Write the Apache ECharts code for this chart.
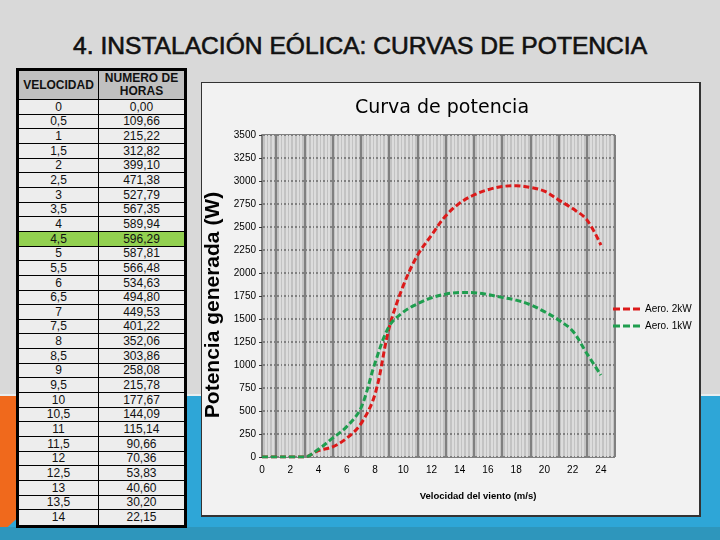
<!DOCTYPE html>
<html>
<head>
<meta charset="utf-8">
<script src="https://cdn.jsdelivr.net/npm/echarts@6/dist/echarts.min.js"></script>
<style>
html,body{margin:0;padding:0;width:720px;height:540px;overflow:hidden;background:#d9d9d9;font-family:"Liberation Sans",Arial,sans-serif;}
.abs{position:absolute;}
#bgBlue{left:0;top:396px;width:720px;height:144px;background:#2ea6d7;}
#bgLine{left:0;top:394px;width:720px;height:2px;background:#e9eef0;}
#bgOrange{left:0;top:396px;width:18px;height:138px;background:#f0691c;clip-path:polygon(0 0,100% 0,100% 88%,0 100%);}
#bgBottom{left:0;top:527px;width:720px;height:13px;background:#2e96bc;}
#slideTitle{left:0;top:34px;width:720px;text-align:center;line-height:24px;color:#111;white-space:nowrap;}
#slideTitle span{display:inline-block;font-size:24px;font-weight:normal;-webkit-text-stroke:0.6px #111;transform-origin:50% 50%;}
#frame{left:201px;top:82px;width:500px;height:435px;box-sizing:border-box;background:#f2f2f2;border:1px solid #333;border-right-width:2px;border-bottom-width:2px;}
#chart{left:0;top:0;width:720px;height:540px;}
#tbl{left:16px;top:68px;width:171px;height:460px;box-sizing:border-box;border:3px solid #000;background:#000;z-index:5;}
.cell{position:absolute;box-sizing:border-box;text-align:center;color:#111;font-size:12px;overflow:hidden;white-space:nowrap;}
.hdr{background:#c0c0c0;font-weight:bold;line-height:13px;display:flex;align-items:center;justify-content:center;}
</style>
</head>
<body>
<div id="bgBlue" class="abs"></div>
<div id="bgLine" class="abs"></div>
<div id="bgOrange" class="abs"></div>
<div id="bgBottom" class="abs"></div>
<div id="slideTitle" class="abs"><span id="titleSpan">4. INSTALACIÓN EÓLICA: CURVAS DE POTENCIA</span></div>
<div id="frame" class="abs"></div>
<div id="chart" class="abs"></div>
<div id="tbl" class="abs"></div>
<script>
// ---- table data ----
const tableHeaders = ['VELOCIDAD', 'NUMERO DE<br>HORAS'];
const velocidad = ['0','0,5','1','1,5','2','2,5','3','3,5','4','4,5','5','5,5','6','6,5','7','7,5','8','8,5','9','9,5','10','10,5','11','11,5','12','12,5','13','13,5','14'];
const horas = ['0,00','109,66','215,22','312,82','399,10','471,38','527,79','567,35','589,94','596,29','587,81','566,48','534,63','494,80','449,53','401,22','352,06','303,86','258,08','215,78','177,67','144,09','115,14','90,66','70,36','53,83','40,60','30,20','22,15'];
const highlightRow = '4,5';

// ---- chart data ----
const windSpeed = [0,1,2,3,4,5,6,7,8,9,10,11,12,13,14,15,16,17,18,19,20,21,22,23,24];
const aero2kW = [0,0,0,0,70,110,205,360,680,1400,1860,2190,2410,2620,2760,2848,2905,2940,2948,2930,2890,2795,2700,2580,2304];
const aero1kW = [0,0,0,0,85,205,330,530,1020,1420,1575,1665,1730,1770,1788,1786,1765,1735,1705,1655,1580,1490,1370,1127,890];
const xTickLabels = [0,2,4,6,8,10,12,14,16,18,20,22,24];
const yTickLabels = [0,250,500,750,1000,1250,1500,1750,2000,2250,2500,2750,3000,3250,3500];

// ---- slide title fit ----
(function(){
  const s = document.getElementById('titleSpan');
  const w = s.getBoundingClientRect().width;
  s.style.transform = 'scaleX(' + (574 / w) + ')';
})();

// ---- build table ----
(function(){
  const tbl = document.getElementById('tbl');
  const colX = [0, 80, 165];
  const hdrH = 29;
  const totalH = 454;
  const n = velocidad.length;
  const rowH = (totalH - hdrH) / n;
  function addCell(x, y, w, h, html, cls, bg){
    const d = document.createElement('div');
    d.className = 'cell ' + (cls||'');
    d.style.left = x + 'px'; d.style.top = y + 'px';
    d.style.width = w + 'px'; d.style.height = h + 'px';
    if (!cls) d.style.lineHeight = h + 'px';
    d.style.background = bg;
    d.innerHTML = html;
    tbl.appendChild(d);
  }
  addCell(colX[0], 0, colX[1]-colX[0]-1, hdrH-1, tableHeaders[0], 'hdr', '#c0c0c0');
  addCell(colX[1], 0, colX[2]-colX[1], hdrH-1, tableHeaders[1], 'hdr', '#c0c0c0');
  for (let i = 0; i < n; i++) {
    const y0 = Math.round(hdrH + i*rowH);
    const y1 = Math.round(hdrH + (i+1)*rowH);
    const bg = velocidad[i] === highlightRow ? '#92d050' : '#ededed';
    const h = (i === n-1) ? (y1 - y0) : (y1 - y0 - 1);
    addCell(colX[0], y0, colX[1]-colX[0]-1, h, velocidad[i], '', bg);
    addCell(colX[1], y0, colX[2]-colX[1], h, horas[i], '', bg);
  }
})();

// ---- chart ----
const chart = echarts.init(document.getElementById('chart'), null, {renderer:'canvas'});
const font = '"Liberation Sans", Arial, sans-serif';
const dashIcon = 'path://M0 0h7v3h-7z M10 0h7v3h-7z M20 0h7v3h-7z';
const option = {
  animation: false,
  backgroundColor: 'transparent',
  textStyle: {fontFamily: font},
  grid: {left: 262, right: 105, top: 135, bottom: 83, show: true, backgroundColor: '#c3c3c3', borderWidth: 0},
  legend: {
    orient: 'vertical', left: 608, top: 298, itemWidth: 27, itemHeight: 3, itemGap: 5,
    icon: dashIcon,
    textStyle: {fontSize: 10, color: '#000', fontFamily: font, lineHeight: 12},
    data: ['Aero. 2kW', 'Aero. 1kW']
  },
  xAxis: {
    type: 'value', min: 0, max: 25, interval: 1,
    axisLine: {show: false}, axisTick: {show: false},
    axisLabel: {fontSize: 10, color: '#000', margin: 8, fontFamily: font,
      formatter: function(v){ return xTickLabels.indexOf(v) >= 0 ? String(v) : ''; }},
    splitLine: {show: true, lineStyle: {color: ['#dcdcdc', '#808080'], width: 2}},
    minorTick: {show: false, splitNumber: 4},
    minorSplitLine: {show: true, lineStyle: {color: '#dcdcdc', width: 2}}
  },
  yAxis: {
    type: 'value', min: 0, max: 3500, interval: 250,
    axisLine: {show: true, lineStyle: {color: '#808080', width: 2}},
    axisTick: {show: true, length: 3, lineStyle: {color: '#333'}},
    axisLabel: {fontSize: 10, color: '#000', margin: 6, fontFamily: font,
      formatter: function(v){ return yTickLabels.indexOf(v) >= 0 ? String(v) : ''; }},
    splitLine: {show: true, lineStyle: {color: '#808080', width: 2}}
  },
  series: [
    {name: 'Aero. 2kW', type: 'line', smooth: 0.35, symbol: 'none', z: 3,
     data: windSpeed.map((v,i) => [v, aero2kW[i]]),
     itemStyle: {color: '#dc1a1a'},
     lineStyle: {color: '#dc1a1a', width: 3, type: [6,3]}},
    {name: 'Aero. 1kW', type: 'line', smooth: 0.35, symbol: 'none', z: 4,
     data: windSpeed.map((v,i) => [v, aero1kW[i]]),
     itemStyle: {color: '#1f9e4f'},
     lineStyle: {color: '#1f9e4f', width: 3, type: [6,3]}}
  ],
  graphic: [
    {type: 'text', x: 442, y: 108, style: {text: 'Curva de potencia', fill: '#000',
      font: 'normal 19px "DejaVu Sans", sans-serif', textAlign: 'center', textVerticalAlign: 'middle'}},
    {type: 'text', x: 213, y: 305, rotation: Math.PI/2, style: {text: 'Potencia generada (W)', fill: '#000',
      font: 'bold 21px "Liberation Sans", Arial, sans-serif', textAlign: 'center', textVerticalAlign: 'middle'}},
    {type: 'text', x: 478, y: 496, style: {text: 'Velocidad del viento (m/s)', fill: '#000',
      font: 'bold 9.5px "Liberation Sans", Arial, sans-serif', textAlign: 'center', textVerticalAlign: 'middle'}}
  ]
};
chart.setOption(option);
</script>
</body>
</html>
